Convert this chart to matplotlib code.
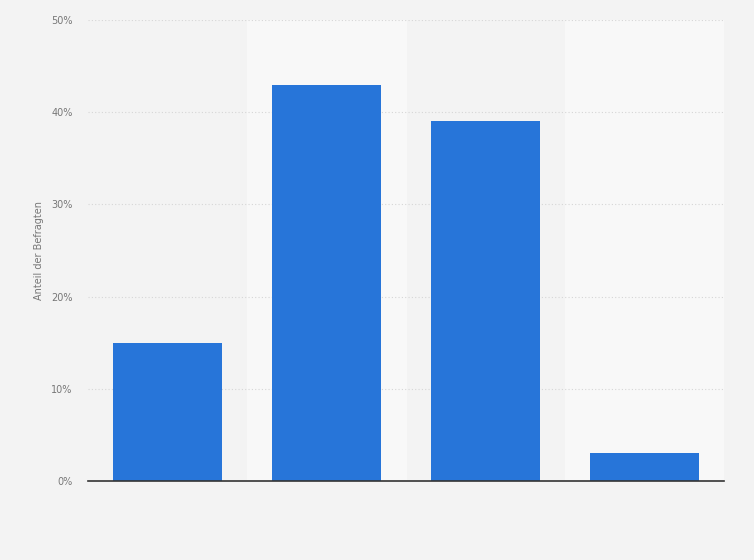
import matplotlib.pyplot as plt

# values (no category labels are shown)
categories = ["A", "B", "C", "D"]
anteil = [15, 43, 39, 3]
y_ticks = [0, 10, 20, 30, 40, 50]
y_labels = ["0%", "10%", "20%", "30%", "40%", "50%"]

fig = plt.figure(figsize=(7.54, 5.6), dpi=100)
fig.patch.set_facecolor("#f3f3f3")
ax = fig.add_axes([0.1167, 0.1411, 0.8435, 0.8232])
ax.set_facecolor("#f3f3f3")

x = list(range(len(categories)))
# alternating column bands
for i in x:
    if i % 2 == 1:
        ax.axvspan(i - 0.5, i + 0.5, color="#f8f8f8", zorder=0)

for t in y_ticks[1:]:
    ax.axhline(t, color="#d6d6d6", lw=0.8, ls=(0, (1, 2)), zorder=1)

ax.bar(x, anteil, width=0.686, color="#2775d9", zorder=2)

ax.set_xlim(-0.5, len(categories) - 0.5)
ax.set_ylim(0, 50)
ax.set_yticks(y_ticks)
ax.set_yticklabels(y_labels, fontsize=7, color="#777777")
ax.set_xticks([])
ax.tick_params(axis="y", length=0, pad=11)
ax.set_ylabel("Anteil der Befragten", fontsize=7, color="#777777", labelpad=5)

for s in ["top", "right", "left"]:
    ax.spines[s].set_visible(False)
ax.spines["bottom"].set_color("#333333")
ax.spines["bottom"].set_linewidth(1.2)
ax.spines["bottom"].set_zorder(3)

fig.savefig("out.png", dpi=100, facecolor=fig.get_facecolor())
